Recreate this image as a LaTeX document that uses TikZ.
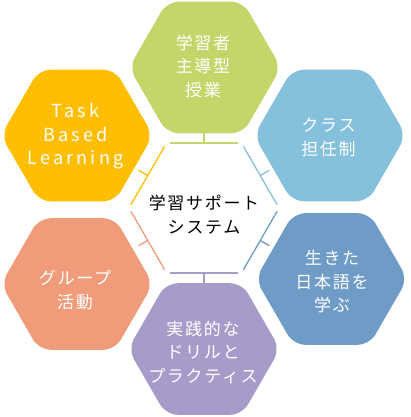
\documentclass[tikz,border=0pt]{standalone}
\usepackage{fontspec}
\setmainfont{Noto Sans CJK JP}[LetterSpace=10]
\newfontfamily\latinwide{Noto Sans CJK JP}[LetterSpace=18]
\usetikzlibrary{calc}
\definecolor{cgreen}{RGB}{197,213,106}
\definecolor{cyellow}{RGB}{255,190,0}
\definecolor{clblue}{RGB}{133,192,220}
\definecolor{cdblue}{RGB}{111,156,198}
\definecolor{csalmon}{RGB}{240,156,122}
\definecolor{cpurple}{RGB}{167,155,201}
\newcommand\hexfill[2]{\fill[#2, rounded corners=12pt] (#1) +(0:76pt) -- +(60:76pt) -- +(120:76pt) -- +(180:76pt) -- +(240:76pt) -- +(300:76pt) -- cycle;}
\tikzset{
  txt/.style={text=white, align=center, inner sep=0pt, font=\fontsize{17}{23.5}\selectfont},
  ctxt/.style={text=black, align=center, inner sep=0pt, font=\fontsize{17}{24.5}\selectfont},
  edgeline/.style={line width=1.3pt},
}
\begin{document}
\begin{tikzpicture}[x=1pt,y=-1pt]
\useasboundingbox (0,0) rectangle (410,417);
% hexagon centres
\coordinate (cG) at (205,67.5);
\coordinate (cY) at (77,135.5);
\coordinate (cB) at (330,135.5);
\coordinate (cD) at (331.5,279);
\coordinate (cS) at (77,284);
\coordinate (cP) at (204,349);
\coordinate (cC) at (204,208);
\hexfill{cG}{cgreen}
\hexfill{cY}{cyellow}
\hexfill{cB}{clblue}
\hexfill{cD}{cdblue}
\hexfill{cS}{csalmon}
\hexfill{cP}{cpurple}
% central hexagon edges and stubs
\foreach \a/\col/\n in {0/clblue/1, 60/cgreen/2, 120/cyellow/3, 180/csalmon/4, 240/cpurple/5, 300/cdblue/6}{
  \coordinate (va\n) at ($(cC)+(\a:75pt)$);
  \coordinate (vb\n) at ($(cC)+(\a+60:75pt)$);
  \coordinate (m\n) at ($(va\n)!0.5!(vb\n)$);
  \coordinate (s\n) at ($(m\n)+(\a+30:10.5pt)$);
  \draw[edgeline, \col] ($(va\n)!0.05!(vb\n)$) -- ($(va\n)!0.95!(vb\n)$);
  \draw[edgeline, \col] (m\n) -- (s\n);
}
% texts
\node[txt] (G) at (203,66.5) {学習者\\主導型\\授業};
\node[txt, font=\latinwide\fontsize{18}{23.5}\selectfont] (Y) at (75.5,136.5) {Task\\Based\\Learning};
\node[txt] (B) at (328.5,137.5) {クラス\\担任制};
\node[txt] (D) at (332,282) {生きた\\日本語を\\学ぶ};
\node[txt] (S) at (75,290) {グループ\\活動};
\node[txt] (P) at (203,352) {実践的な\\ドリルと\\プラクティス};
\node[ctxt] (C) at (204,214.5) {学習サポート\\システム};
\end{tikzpicture}
\end{document}
